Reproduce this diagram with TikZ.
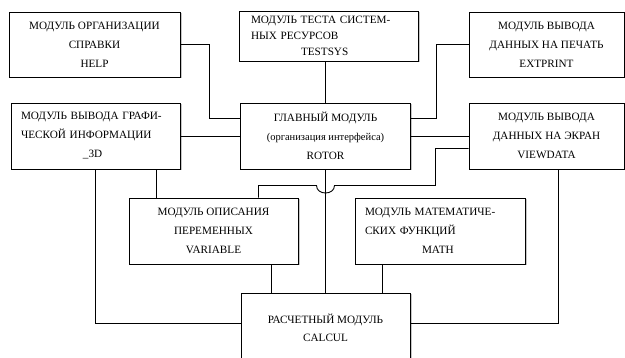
\documentclass[tikz,border=0pt]{standalone}
\usepackage{fontspec}
\setmainfont{Liberation Serif}
\usetikzlibrary{shadows}

\begin{document}
\begin{tikzpicture}[x=1pt, y=-1pt, line width=0.9pt,
    box/.style={draw, fill=white, inner sep=0pt, align=center,
      drop shadow={shadow xshift=1.5pt, shadow yshift=-1.5pt, opacity=.45},
      font=\fontsize{11.2}{19}\selectfont}]
    \clip (0,0) rectangle (625,358);
    \node[box, minimum width=171pt, minimum height=65pt] (help) at (94.5,44.5) {МОДУЛЬ ОРГАНИЗАЦИИ\\СПРАВКИ\\HELP};
    \node[box, minimum width=179pt, minimum height=50pt, text width=155pt, align=left,
      font=\fontsize{11.2}{16}\selectfont] (testsys) at (328.5,36) {МОДУЛЬ ТЕСТА СИСТЕМ-\\НЫХ РЕСУРСОВ\\\hspace*{50pt}TESTSYS};
    \node[box, minimum width=155pt, minimum height=65pt] (extprint) at (546.5,44.5) {МОДУЛЬ ВЫВОДА\\ДАННЫХ НА ПЕЧАТЬ\\EXTPRINT};
    \node[box, minimum width=169pt, minimum height=66pt, text width=149pt, align=left] (graph) at (95.5,136) {МОДУЛЬ ВЫВОДА ГРАФИ-\\ЧЕСКОЙ ИНФОРМАЦИИ\\\hspace*{62pt}\_3D};
    \node[box, minimum width=170pt, minimum height=66pt] (rotor) at (325.5,136) {ГЛАВНЫЙ МОДУЛЬ\\{\fontsize{10.5}{19}\selectfont(организация интерфейса)}\\ROTOR};
    \node[box, minimum width=155pt, minimum height=66pt] (viewdata) at (546.5,136) {МОДУЛЬ ВЫВОДА\\ДАННЫХ НА ЭКРАН\\VIEWDATA};
    \node[box, minimum width=169pt, minimum height=66pt] (variable) at (213.5,231) {МОДУЛЬ ОПИСАНИЯ\\ПЕРЕМЕННЫХ\\VARIABLE};
    \node[box, minimum width=170pt, minimum height=66pt, text width=150pt, align=left] (math) at (440,231) {МОДУЛЬ МАТЕМАТИЧЕ-\\СКИХ ФУНКЦИЙ\\\hspace*{57pt}MATH};
    \node[box, minimum width=169pt, minimum height=69pt, font=\fontsize{11.2}{18}\selectfont] (calcul) at (325.5,327.5) {РАСЧЕТНЫЙ МОДУЛЬ\\CALCUL};
    \draw (help.east) -| (209.5,118.5) -- (rotor.west |- 0,118.5);
    \draw (rotor.north) -- (rotor.north |- testsys.south);
    \draw (extprint.west) -| (436.5,118.5) -- (rotor.east |- 0,118.5);
    \draw (graph.east) -- (rotor.west);
    \draw (rotor.east) -- (viewdata.west);
    \draw (viewdata.west |- 0,148.5) -| (435.5,185.5) -- (334.5,185.5)
      .. controls (334.5,195.5) and (316.5,195.5) .. (316.5,185.5) -| (variable.north -| 258.5,0);
    \draw (graph.south) |- (calcul.west |- 0,323.5);
    \draw (graph.south -| 156.5,0) -- (variable.north -| 156.5,0);
    \draw (variable.south -| 271.5,0) -- (calcul.north -| 271.5,0);
    \draw (math.south -| 382.5,0) -- (calcul.north -| 382.5,0);
    \draw (calcul.east |- 0,323.5) -| (viewdata.south -| 558.5,0);
    \draw (rotor.south) -- (rotor.south |- 0,240) -- (calcul.north);
\end{tikzpicture}
\end{document}
